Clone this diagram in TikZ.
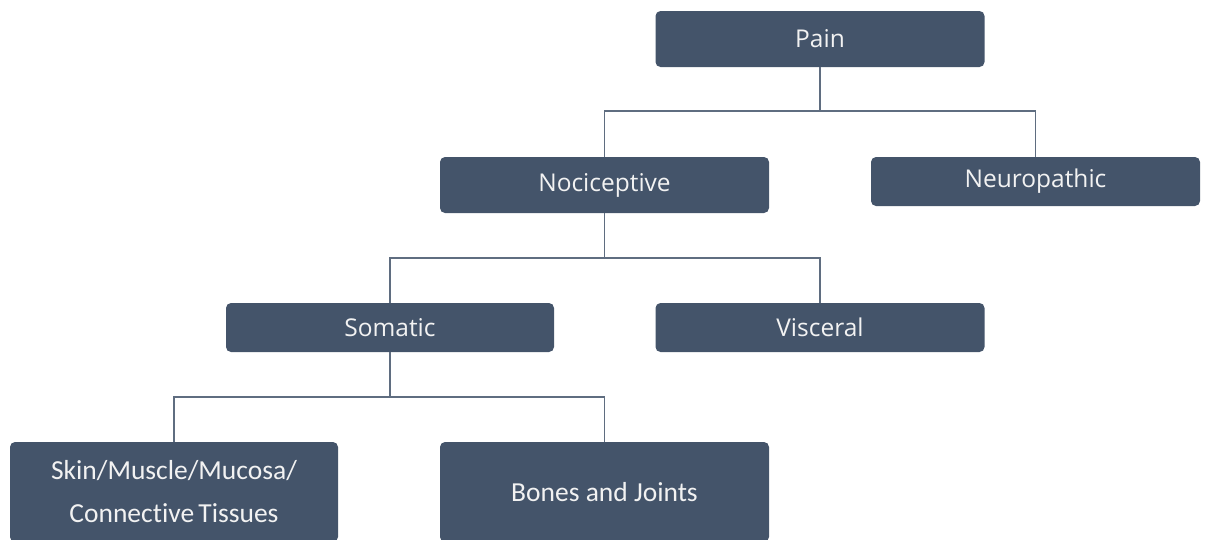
\documentclass[tikz,border=0pt]{standalone}
\usepackage{fontspec}
\setmainfont{Open Sans}
\newfontfamily\calfont[Ligatures={NoCommon}]{Carlito}
\definecolor{boxblue}{HTML}{44546A}
\definecolor{linegrey}{HTML}{5F6D80}
\definecolor{txt}{HTML}{F2F2F2}
\tikzset{
  box/.style={draw=none, fill=boxblue, rounded corners=5pt, inner sep=0pt,
    minimum width=329pt, text=txt, font=\fontsize{24.5}{28}\selectfont, align=center},
  conn/.style={draw=linegrey, line width=1.4pt}
}
\begin{document}
\begin{tikzpicture}[x=1pt,y=-1pt]
\useasboundingbox (0,0) rectangle (1207,539);
\node[box, minimum height=56pt] (pain) at (820,39) {Pain};
\node[box, minimum height=56pt] (noci) at (604.5,185) {Nociceptive};
\node[box, minimum height=49pt] (neuro) at (1035.5,181.5) {Neuropathic};
\node[box, minimum height=49pt, minimum width=328pt] (soma) at (390,327.5) {Somatic};
\node[box, minimum height=49pt] (visc) at (820,327.5) {Visceral};
\node[box, minimum height=100pt, minimum width=328pt, font=\calfont\fontsize{27.5}{43}\selectfont] (skin) at (174,492) {Skin/Muscle/Mucosa/\\Connective\kern-2pt\ Tissues};
\node[box, minimum height=100pt, font=\calfont\fontsize{27.5}{30}\selectfont] (bones) at (604.5,492) {Bones and Joints};
\coordinate (j1) at (820,111);
\coordinate (j2) at (604.5,258);
\coordinate (j3) at (390,397);
\draw[conn] (pain.south) -- (j1);
\draw[conn] (j1) -| (noci.north);
\draw[conn] (j1) -| (neuro.north);
\draw[conn] (noci.south) -- (j2);
\draw[conn] (j2) -| (soma.north);
\draw[conn] (j2) -| (visc.north);
\draw[conn] (soma.south) -- (j3);
\draw[conn] (j3) -| (skin.north);
\draw[conn] (j3) -| (bones.north);
\end{tikzpicture}
\end{document}
